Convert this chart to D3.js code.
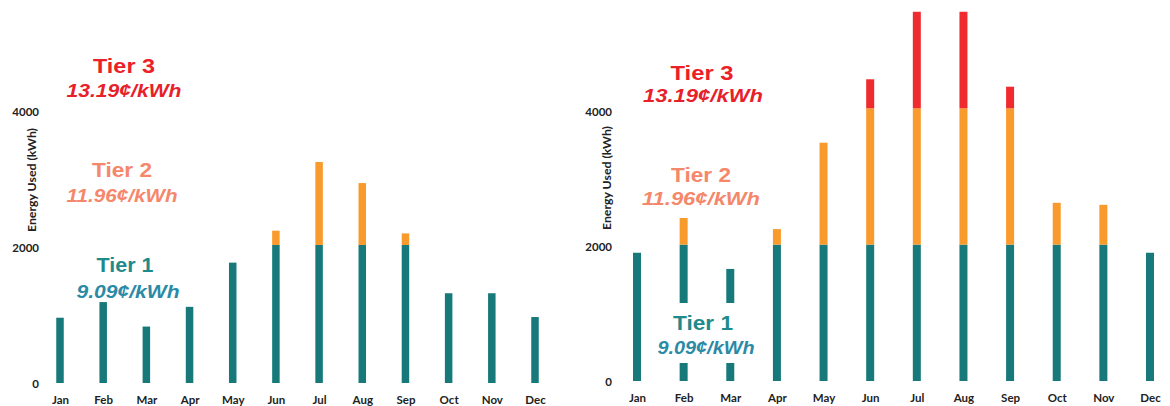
<!DOCTYPE html>
<html><head><meta charset="utf-8">
<script src="https://cdn.jsdelivr.net/npm/d3@7"></script>
<style>body{margin:0;background:#fff}svg{display:block}</style>
</head><body>
<svg id="c" width="1170" height="406"></svg>
<script>
const months = ["Jan","Feb","Mar","Apr","May","Jun","Jul","Aug","Sep","Oct","Nov","Dec"];
const yTicks = [0, 2000, 4000];
// Left chart (kWh per tier)
const leftTier1 = [960,1190,830,1120,1770,2030,2030,2030,2030,1320,1320,970];
const leftTier2 = [0,0,0,0,0,210,1220,910,170,0,0,0];
const leftTier3 = [0,0,0,0,0,0,0,0,0,0,0,0];
// Right chart (kWh per tier)
const rightTier1 = [1900,2020,1660,2020,2020,2020,2020,2020,2020,2020,2020,1900];
const rightTier2 = [0,395,0,230,1510,2020,2020,2020,2020,620,590,0];
const rightTier3 = [0,0,0,0,0,430,1430,1430,320,0,0,0];
const tierLabels = ["Tier 1","Tier 2","Tier 3"];
const tierRates = ["9.09¢/kWh","11.96¢/kWh","13.19¢/kWh"];
const yTitle = "Energy Used (kWh)";

const colors = ["#17797a","#f99a2c","#ef2b2f"];
const nameColors = ["#1f8a8c","#f5876b","#ec2128"];
const rateColors = ["#2b8aa6","#f5876b","#e8202a"];

const svg = d3.select("#c");

function panel(cfg){
  const g = svg.append("g");
  const x = d3.scalePoint().domain(months).range(cfg.xr);
  const y = d3.scaleLinear().domain([0,4000]).range(cfg.yr);
  const series = [cfg.t1,cfg.t2,cfg.t3];
  const data = months.map((m,i)=>({m, t0:series[0][i], t1:series[1][i], t2:series[2][i]}));
  const stack = d3.stack().keys(["t0","t1","t2"])(data);
  stack.forEach((layer,k)=>{
    g.append("g").selectAll("rect").data(layer.filter(d=>d[1]>d[0])).join("rect")
      .attr("x", d=>x(d.data.m)-cfg.bw/2)
      .attr("width", cfg.bw)
      .attr("y", d=>y(d[1]))
      .attr("height", d=>y(d[0])-y(d[1]))
      .attr("fill", colors[k]);
  });
  // y axis
  const ya = g.append("g").attr("transform",`translate(${cfg.yAxisX},0)`)
    .call(d3.axisLeft(y).tickValues(yTicks).tickSize(0).tickPadding(0).tickFormat(d3.format("d")));
  ya.select(".domain").remove();
  ya.selectAll("text").attr("font-family","Lato, 'Open Sans', sans-serif").attr("font-weight","bold")
    .attr("font-size",11.5).attr("fill","#222").attr("dy","0.35em");
  // x axis
  const xa = g.append("g").attr("transform",`translate(0,${cfg.xAxisY})`)
    .call(d3.axisBottom(x).tickSize(0).tickPadding(0));
  xa.select(".domain").remove();
  xa.selectAll("text").attr("font-family","Lato, 'Open Sans', sans-serif").attr("font-weight","bold")
    .attr("font-size",11.5).attr("fill","#222").attr("dy","0.75em");
  // y title
  g.append("text").attr("transform",`translate(${cfg.titleX},${cfg.titleY}) rotate(-90)`)
    .attr("text-anchor","middle").attr("font-family","Lato, 'Open Sans', sans-serif")
    .attr("font-weight","bold").attr("font-size",11).attr("fill","#222")
    .attr("textLength",104).attr("lengthAdjust","spacingAndGlyphs").text(yTitle);
  // tier texts
  if (cfg.mask) g.append("rect").attr("x",cfg.mask[0]).attr("y",cfg.mask[1]).attr("width",cfg.mask[2]).attr("height",cfg.mask[3]).attr("fill","#fff");
  cfg.labels.forEach((L,k)=>{
    g.append("text").attr("x",L[0]).attr("y",L[1]).attr("text-anchor","middle")
      .attr("font-family","'Liberation Sans', Arial, sans-serif").attr("font-weight","bold")
      .attr("font-size",20).attr("fill",nameColors[k])
      .attr("textLength",L[2]).attr("lengthAdjust","spacingAndGlyphs").text(tierLabels[k]);
    g.append("text").attr("x",L[3]).attr("y",L[4]).attr("text-anchor","middle")
      .attr("font-family","'Liberation Sans', Arial, sans-serif").attr("font-weight","bold")
      .attr("font-style","italic").attr("font-size",18).attr("fill",rateColors[k])
      .attr("textLength",L[5]).attr("lengthAdjust","spacingAndGlyphs").text(tierRates[k]);
  });
}

panel({xr:[60,535], yr:[383,111], bw:7.5, t1:leftTier1, t2:leftTier2, t3:leftTier3,
  yAxisX:39, xAxisY:395, titleX:36, titleY:180,
  labels:[[125,272,57,128,298,103],[122,177,60,122,202,111],[124,73,62,124,97,115]]});
panel({xr:[637,1150], yr:[381,111], bw:8, t1:rightTier1, t2:rightTier2, t3:rightTier3,
  yAxisX:612, xAxisY:393, titleX:611, titleY:178, mask:[650,303,115,60],
  labels:[[703,330,60,706,354,97],[701,182,60,701,205,118],[702,80,63,703,102,120]]});
</script>
</body></html>
